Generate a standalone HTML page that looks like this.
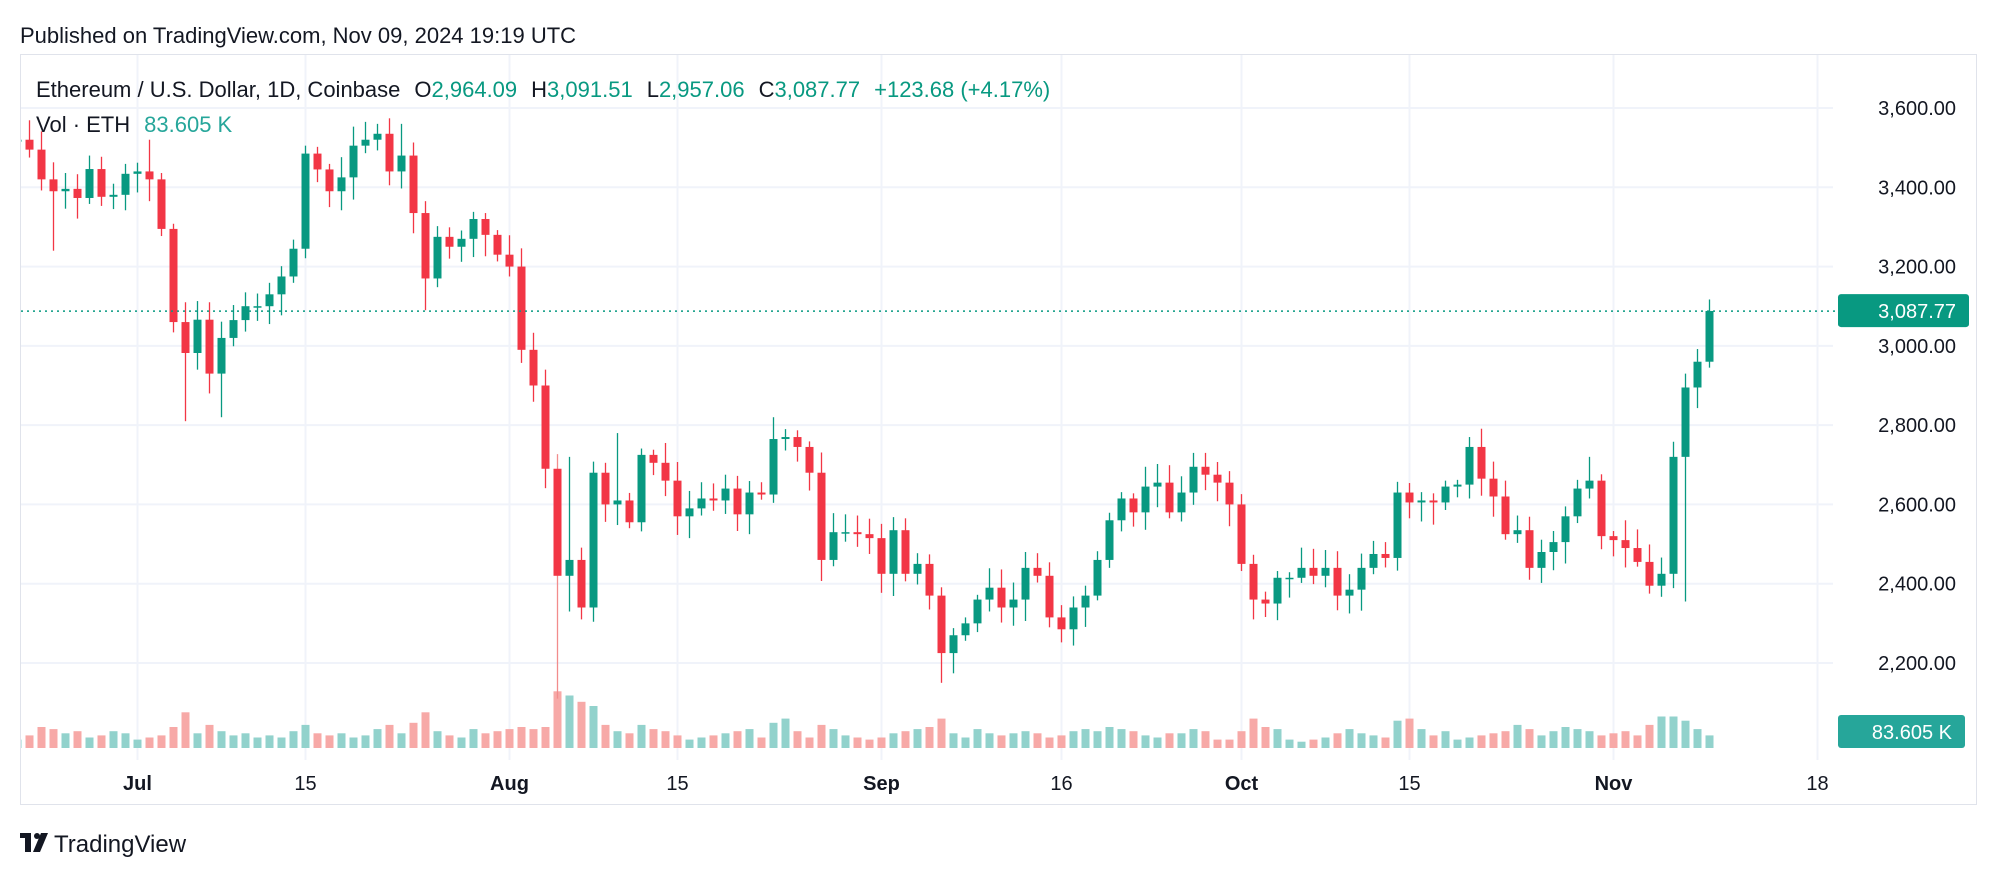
<!DOCTYPE html>
<html><head><meta charset="utf-8">
<style>
html,body{margin:0;padding:0;background:#fff;}
body{width:1996px;height:878px;overflow:hidden;font-family:"Liberation Sans",sans-serif;position:relative;}
svg{position:absolute;left:0;top:0;}
</style></head>
<body>
<svg id="s" width="1996" height="878" xmlns="http://www.w3.org/2000/svg" font-family="Liberation Sans, sans-serif"></svg>
<script>
const S=document.getElementById('s');
let h='<defs><clipPath id="cp"><rect x="21" y="55" width="1812" height="705"/></clipPath></defs>';
const up='#089981',dn='#F23645',upv='#92D2CC',dnv='#F7A9A7';
const Y=p=>108+(3600-p)*0.39643;
const X=d=>137.5+12.0*d;
h+='<rect x="20.5" y="54.5" width="1956" height="750" fill="none" stroke="#E0E3EB" stroke-width="1"/>';
for(let p=2200;p<=3600;p+=200){h+=`<line x1="21" x2="1833" y1="${Y(p)}" y2="${Y(p)}" stroke="#F0F3FA" stroke-width="2"/>`;
h+=`<text x="1956" y="${Y(p)+7}" font-size="20" fill="#131722" text-anchor="end">${p.toLocaleString('en-US')}.00</text>`;}
const tl=[['Jul',0,1],['15',14,0],['Aug',31,1],['15',45,0],['Sep',62,1],['16',77,0],['Oct',92,1],['15',106,0],['Nov',123,1],['18',140,0]];
for(const [t,d,b] of tl){h+=`<line x1="${X(d)}" x2="${X(d)}" y1="55" y2="760" stroke="#F0F3FA" stroke-width="2"/>`;
h+=`<text x="${X(d)}" y="790" font-size="20" fill="#131722" text-anchor="middle" ${b?'font-weight="bold"':''}>${t}</text>`;}
const C=[3520,3495,3420,3390,3396,3373,3446,3376,3381,3434,3440,3420,3295,3060,2982,3066,2930,3020,3065,3100,3100,3130,3175,3245,3485,3445,3390,3425,3505,3520,3535,3440,3480,3335,3170,3275,3250,3270,3320,3280,3230,3200,2990,2900,2690,2420,2460,2340,2680,2600,2610,2555,2725,2705,2660,2570,2590,2615,2610,2640,2575,2630,2625,2765,2770,2745,2680,2460,2530,2530,2525,2515,2425,2535,2425,2450,2370,2225,2270,2300,2360,2390,2340,2360,2440,2420,2315,2285,2340,2370,2460,2560,2615,2580,2645,2655,2580,2630,2695,2675,2655,2600,2450,2360,2350,2415,2415,2440,2420,2440,2370,2385,2440,2475,2465,2630,2605,2610,2605,2645,2650,2745,2665,2620,2525,2535,2440,2480,2505,2570,2640,2660,2520,2510,2490,2455,2395,2425,2720,2895,2960,3088];
const O=[3515];for(let i=1;i<C.length;i++)O.push(C[i-1]);
const lowOv={3:3240,14:2810,17:2820,45:2110,46:2330,47:2310,77:2150,103:2310,139:2355,34:3090};
const highOv={30:3560,32:3560,63:2820,98:2730,121:2770,131:2720,11:3520,148:3091,46:2720,50:2780};
const V=[4,6,10,9,7,8,5,6,8,7,4,5,6,10,17,7,11,8,6,7,5,6,5,8,11,7,6,7,5,6,9,11,7,12,17,8,6,5,9,7,8,9,10,9,10,27,25,22,20,11,8,7,11,9,8,6,4,5,6,7,8,9,5,12,14,8,5,11,9,6,5,4,5,7,8,9,10,14,7,5,9,7,6,7,8,7,5,6,8,9,8,10,9,8,6,5,7,7,9,8,4,4,8,14,10,9,4,3,4,5,7,9,7,6,5,13,14,9,6,8,4,5,6,7,8,11,9,6,8,10,9,8,6,7,8,6,11,15,15,13,9];
const base=748;
h+='<g clip-path="url(#cp)">';
for(let i=0;i<C.length;i++){
 const d=i-10,x=X(d),o=O[i],c=C[i],isUp=c>=o;
 const hi=highOv[i]||Math.max(o,c)+12+((i*37)%40);
 const lo=lowOv[i]||Math.min(o,c)-12-((i*53)%45);
 const col=isUp?up:dn;
 const vh=(V[i]||6)*2.1;
 h+=`<rect x="${x-4}" y="${base-vh}" width="8" height="${vh}" fill="${isUp?upv:dnv}"/>`;
 h+=`<line x1="${x}" x2="${x}" y1="${Y(hi)}" y2="${Y(lo)}" stroke="${i==45?'#F28C8C':col}" stroke-width="1.3"/>`;
 const y1=Y(Math.max(o,c)),y2=Y(Math.min(o,c));
 h+=`<rect x="${x-4}" y="${y1}" width="8" height="${Math.max(1.5,y2-y1)}" fill="${col}"/>`;
}
h+='</g>';
const ly=Y(3087.77);
h+=`<line x1="21" x2="1836" y1="${ly}" y2="${ly}" stroke="${up}" stroke-width="1.5" stroke-dasharray="2,4"/>`;
h+=`<rect x="1838" y="${ly-17}" width="131" height="33" rx="3" fill="${up}"/>`;
h+=`<text x="1956" y="${ly+7}" font-size="20" fill="#fff" text-anchor="end">3,087.77</text>`;
h+=`<rect x="1838" y="715" width="127" height="33" rx="3" fill="#26A69A"/>`;
h+=`<text x="1952" y="739" font-size="20" fill="#fff" text-anchor="end">83.605 K</text>`;
h+=`<text x="20" y="43" font-size="22" fill="#131722">Published on TradingView.com, Nov 09, 2024 19:19 UTC</text>`;
h+=`<text x="36" y="97" font-size="22" fill="#131722">Ethereum / U.S. Dollar, 1D, Coinbase<tspan dx="14">O</tspan><tspan fill="${up}">2,964.09</tspan><tspan dx="14">H</tspan><tspan fill="${up}">3,091.51</tspan><tspan dx="14">L</tspan><tspan fill="${up}">2,957.06</tspan><tspan dx="14">C</tspan><tspan fill="${up}">3,087.77</tspan><tspan dx="14" fill="${up}">+123.68 (+4.17%)</tspan></text>`;
h+=`<text x="36" y="132" font-size="22" fill="#131722">Vol · ETH<tspan dx="14" fill="#26A69A">83.605 K</tspan></text>`;
h+=`<g fill="#131722"><rect x="20" y="833" width="11" height="5"/><rect x="25" y="833" width="6" height="19"/><circle cx="37" cy="836" r="3"/><path d="M41 833 L48 833 L40 852 L33 852 Z"/></g>`;
h+=`<text x="54" y="852" font-size="24" fill="#131722">TradingView</text>`;
S.innerHTML=h;
</script>
</body></html>
